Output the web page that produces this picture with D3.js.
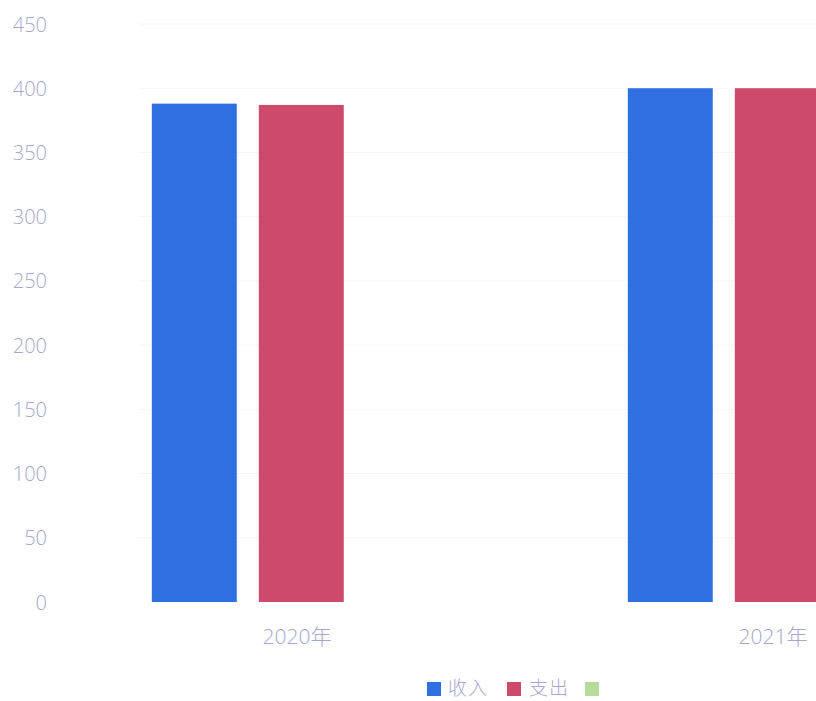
<!DOCTYPE html>
<html>
<head>
<meta charset="utf-8">
<script src="https://cdn.jsdelivr.net/npm/d3@7/dist/d3.min.js"></script>
<style>
  html, body { margin: 0; padding: 0; background: #ffffff; overflow: hidden; }
  svg { display: block; }
</style>
</head>
<body>
<svg id="chart" width="816" height="701"></svg>
<script>
// Annual income / expenditure
const categories = ["2020年", "2021年"];
const seriesNames = ["收入", "支出", ""];
const income = [388, 400];
const expense = [387, 400];
const other = [0, 0];
const yTicks = [0, 50, 100, 150, 200, 250, 300, 350, 400, 450];

const seriesValues = [income, expense, other];
const colors = ["#2f6fe0", "#cd4a6c", "#b5dc9a"];

const W = 816, H = 701;
const svg = d3.select("#chart");

const plotLeft = 59, plotBottom = 602, plotTop = 24;
const bandStep = 476;

const y = d3.scaleLinear().domain([0, 450]).range([plotBottom, plotTop]);
const x0 = d3.scaleBand().domain(categories)
  .range([plotLeft, plotLeft + bandStep * categories.length]).padding(0);
const bw = x0.bandwidth();
const x1 = d3.scaleBand().domain(d3.range(seriesNames.length))
  .range([bw * 0.195, bw * 0.823]).paddingInner(0.206).paddingOuter(0);

const textColor = "#a6a7cd";

// horizontal grid lines
svg.append("g")
  .selectAll("line")
  .data(yTicks.filter(t => t > 0))
  .join("line")
  .attr("x1", plotLeft + 80).attr("x2", W)
  .attr("y1", d => y(d)).attr("y2", d => y(d))
  .attr("stroke", "#f6f6f9").attr("stroke-width", 1);

// y axis labels
const yAxis = d3.axisLeft(y).tickValues(yTicks).tickSize(0).tickPadding(0);
const yg = svg.append("g").attr("transform", "translate(47,0)").call(yAxis);
yg.select(".domain").remove();
yg.selectAll("text")
  .attr("fill", textColor)
  .attr("font-family", "'Open Sans', 'Noto Sans', sans-serif")
  .attr("font-weight", 300)
  .attr("font-size", 20)
  .attr("dy", "0.35em");

// bars
const groups = svg.append("g")
  .selectAll("g")
  .data(categories)
  .join("g")
  .attr("transform", d => `translate(${x0(d)},0)`);

groups.selectAll("rect")
  .data((d, i) => seriesValues.map((vals, s) => ({ s, v: vals[i] })))
  .join("rect")
  .attr("x", d => x1(d.s))
  .attr("width", x1.bandwidth())
  .attr("y", d => y(d.v))
  .attr("height", d => y(0) - y(d.v))
  .attr("fill", d => colors[d.s]);

// x axis labels
const xAxis = d3.axisBottom(x0).tickSize(0).tickPadding(0);
const xg = svg.append("g").attr("transform", `translate(0,${plotBottom + 27})`).call(xAxis);
xg.select(".domain").remove();
xg.selectAll("text")
  .attr("fill", textColor)
  .attr("font-family", "'Open Sans', 'Noto Sans CJK SC', sans-serif")
  .attr("font-weight", 300)
  .attr("font-size", 21);

// legend
const legendItems = [
  { x: 427, tx: 448 },
  { x: 507, tx: 529 },
  { x: 585, tx: null }
];
const legend = svg.append("g");
legendItems.forEach((it, i) => {
  legend.append("rect")
    .attr("x", it.x).attr("y", 682)
    .attr("width", 14).attr("height", 14)
    .attr("fill", colors[i]);
  if (seriesNames[i]) {
    legend.append("text")
      .attr("x", it.tx).attr("y", 695)
      .attr("fill", textColor)
      .attr("font-family", "'Noto Sans CJK SC', sans-serif")
      .attr("font-weight", 300)
      .attr("font-size", 19)
      .attr("letter-spacing", 1)
      .text(seriesNames[i]);
  }
});
</script>
</body>
</html>
